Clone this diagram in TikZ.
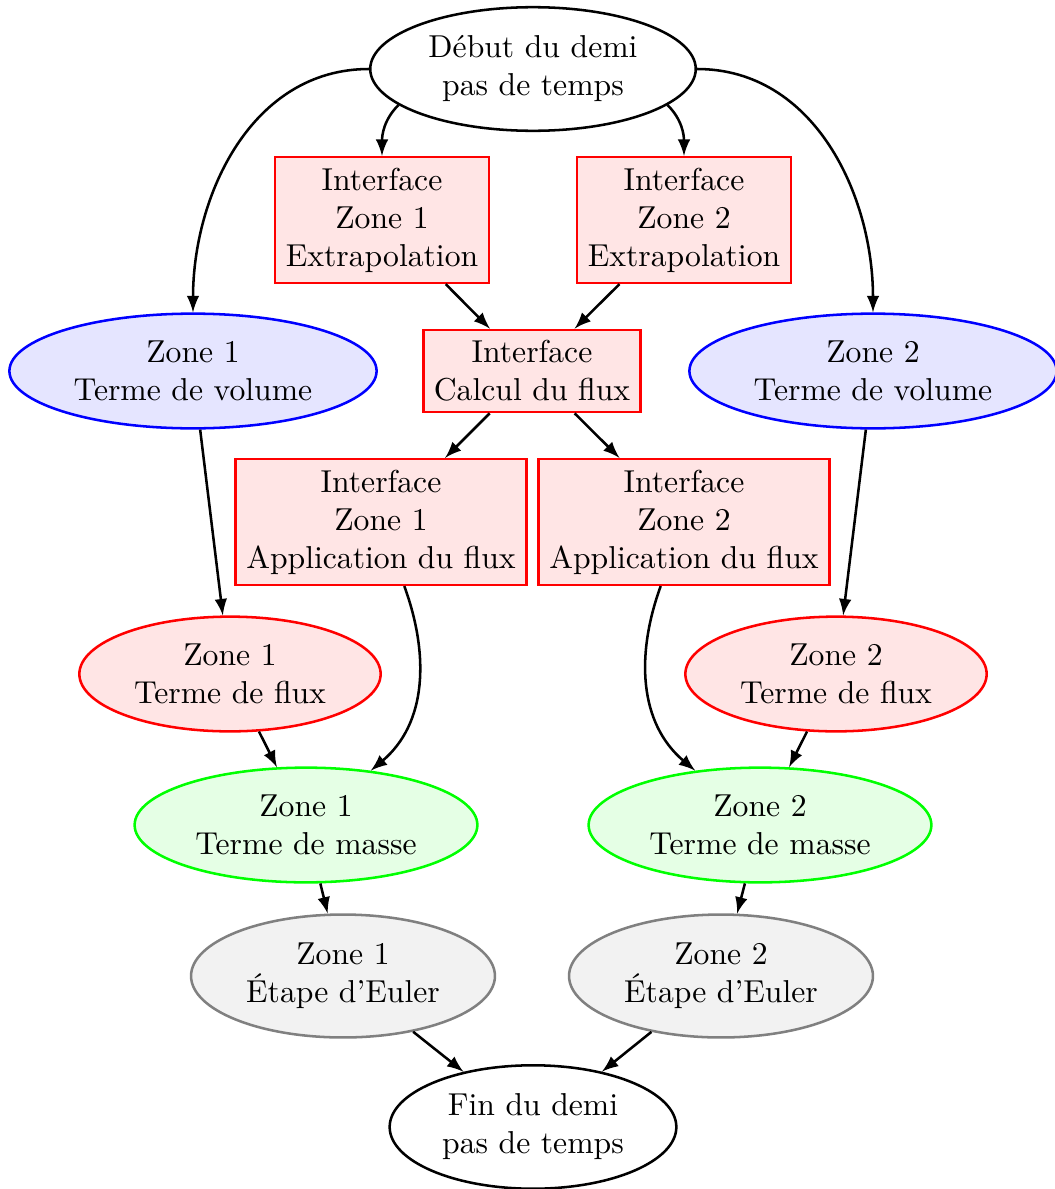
\documentclass[tikz,border=0pt]{standalone}
\usepackage{fontspec}
\usetikzlibrary{arrows,shapes.geometric}
\begin{document}
\begin{tikzpicture}[x=0.0111cm, y=0.0111cm, thick, >=latex,
		bord/.style={ellipse, draw=black, align=center},
		interf/.style={rectangle, draw=red, fill=red!10, align=center},
		volume/.style={ellipse, draw=blue, fill=blue!10, align=center},
		flux/.style={ellipse, draw=red, fill=red!10, align=center},
		masse/.style={ellipse, draw=green, fill=green!10, align=center},
		euler/.style={ellipse, draw=gray, fill=gray!10, align=center}]
		\useasboundingbox (0,0) rectangle (1054,-1189);
		
		\node[bord] (debut) at (533,-69) {Début du demi\\pas de temps};
		\node[interf] (ie1) at (382,-220) {Interface\\Zone 1\\Extrapolation};
		\node[interf] (ie2) at (684,-220) {Interface\\Zone 2\\Extrapolation};
		\node[volume] (vol1) at (193,-371) {Zone 1\\Terme de volume};
		\node[interf] (calc) at (532,-371) {Interface\\Calcul du flux};
		\node[volume] (vol2) at (873,-371) {Zone 2\\Terme de volume};
		\node[interf] (ia1) at (381,-522) {Interface\\Zone 1\\Application du flux};
		\node[interf] (ia2) at (684,-522) {Interface\\Zone 2\\Application du flux};
		\node[flux] (flux1) at (230,-674) {Zone 1\\Terme de flux};
		\node[flux] (flux2) at (836,-674) {Zone 2\\Terme de flux};
		\node[masse] (masse1) at (306,-825) {Zone 1\\Terme de masse};
		\node[masse] (masse2) at (760,-825) {Zone 2\\Terme de masse};
		\node[euler] (euler1) at (343,-976) {Zone 1\\Étape d'Euler};
		\node[euler] (euler2) at (721,-976) {Zone 2\\Étape d'Euler};
		\node[bord] (fin) at (533,-1127) {Fin du demi\\pas de temps};
		
		\draw[->] (debut.west) to[out=180, in=90] (vol1);
		\draw[->] (debut.east) to[out=0, in=90] (vol2);
		\draw[->] (debut.195) to[out=-135, in=90] (ie1);
		\draw[->] (debut.-15) to[out=-45, in=90] (ie2);
		\draw[->] (ia1) to[out=-70, in=40] (masse1);
		\draw[->] (ia2) to[out=-110, in=140] (masse2);
		
		\foreach \a/\b in {ie1/calc, ie2/calc, calc/ia1, calc/ia2, vol1/flux1, vol2/flux2, flux1/masse1, flux2/masse2, masse1/euler1, masse2/euler2, euler1/fin, euler2/fin}
		{
			\draw[->] (\a) -- (\b);
		}
	\end{tikzpicture}
\end{document}
